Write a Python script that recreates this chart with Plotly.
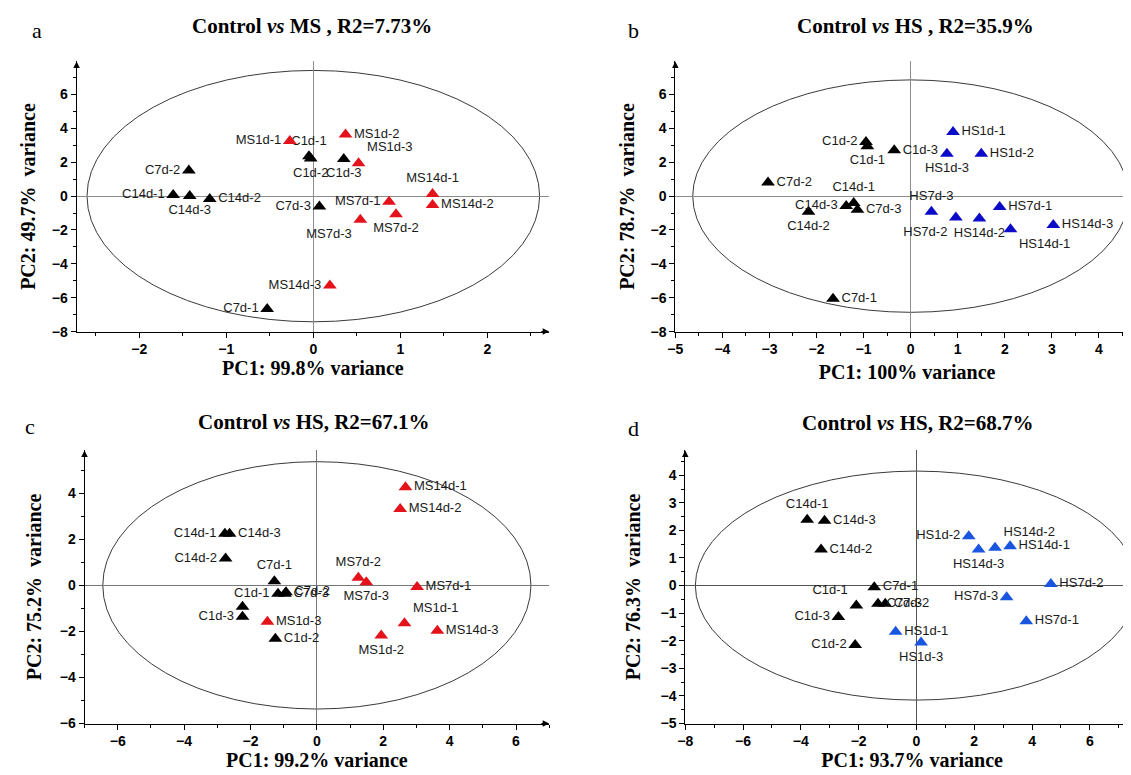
import plotly.graph_objects as go

# ---------------- data ----------------
# Panel a: Control vs MS
A_CTRL_NAMES = ["C1d-1", "C1d-2", "C1d-3", "C7d-1", "C7d-2", "C7d-3", "C14d-1", "C14d-2", "C14d-3"]
A_CTRL_PC1 = [-0.05, -0.03, 0.35, -0.53, -1.43, 0.07, -1.61, -1.19, -1.42]
A_CTRL_PC2 = [2.35, 2.22, 2.19, -6.67, 1.51, -0.62, 0.06, -0.17, 0.00]
A_TRT_NAMES = ["MS1d-1", "MS1d-2", "MS1d-3", "MS7d-1", "MS7d-2", "MS7d-3", "MS14d-1", "MS14d-2", "MS14d-3"]
A_TRT_PC1 = [-0.27, 0.37, 0.52, 0.87, 0.95, 0.54, 1.37, 1.37, 0.19]
A_TRT_PC2 = [3.25, 3.64, 1.94, -0.33, -1.07, -1.40, 0.12, -0.52, -5.27]

# Panel b: Control vs HS
B_CTRL_NAMES = ["C1d-1", "C1d-2", "C1d-3", "C7d-1", "C7d-2", "C7d-3", "C14d-1", "C14d-2", "C14d-3"]
B_CTRL_PC1 = [-0.92, -0.95, -0.35, -1.65, -3.03, -1.13, -1.21, -2.17, -1.37]
B_CTRL_PC2 = [2.95, 3.20, 2.70, -6.06, 0.81, -0.80, -0.41, -0.93, -0.58]
B_TRT_NAMES = ["HS1d-1", "HS1d-2", "HS1d-3", "HS7d-1", "HS7d-2", "HS7d-3", "HS14d-1", "HS14d-2", "HS14d-3"]
B_TRT_PC1 = [0.90, 1.50, 0.77, 1.89, 0.96, 0.44, 2.12, 1.46, 3.03]
B_TRT_PC2 = [3.78, 2.50, 2.50, -0.64, -1.26, -0.93, -1.96, -1.32, -1.70]

# Panel c: Control vs MS (title reads HS)
C_CTRL_NAMES = ["C1d-1", "C1d-2", "C1d-3", "", "C7d-1", "C7d-2", "C7d-3", "C14d-1", "C14d-2", "C14d-3"]
C_CTRL_PC1 = [-1.17, -1.25, -2.24, -2.24, -1.28, -0.93, -0.96, -2.77, -2.75, -2.63]
C_CTRL_PC2 = [-0.36, -2.32, -1.36, -0.93, 0.18, -0.30, -0.36, 2.24, 1.17, 2.24]
C_TRT_NAMES = ["MS1d-1", "MS1d-2", "MS1d-3", "MS7d-1", "MS7d-2", "MS7d-3", "MS14d-1", "MS14d-2", "MS14d-3"]
C_TRT_PC1 = [2.64, 1.94, -1.49, 3.02, 1.25, 1.49, 2.67, 2.51, 3.63]
C_TRT_PC2 = [-1.65, -2.18, -1.58, -0.07, 0.33, 0.14, 4.26, 3.32, -1.97]

# Panel d: Control vs HS
D_CTRL_NAMES = ["C1d-1", "C1d-2", "C1d-3", "C7d-1", "C7d-2", "C7d-3", "C14d-1", "C14d-2", "C14d-3"]
D_CTRL_PC1 = [-2.08, -2.12, -2.70, -1.46, -1.08, -1.33, -3.78, -3.30, -3.18]
D_CTRL_PC2 = [-0.72, -2.15, -1.14, -0.06, -0.66, -0.66, 2.39, 1.31, 2.35]
D_TRT_NAMES = ["HS1d-1", "HS1d-2", "HS1d-3", "HS7d-1", "HS7d-2", "HS7d-3", "HS14d-1", "HS14d-2", "HS14d-3"]
D_TRT_PC1 = [-0.72, 1.81, 0.16, 3.80, 4.65, 3.12, 3.24, 2.72, 2.15]
D_TRT_PC2 = [-1.67, 1.79, -2.06, -1.29, 0.06, -0.42, 1.43, 1.37, 1.31]

# confidence ellipse semi-axes (PC1, PC2) for panels a-d
ELLIPSE_PC1_RADIUS = [2.60, 4.63, 6.45, 7.65]
ELLIPSE_PC2_RADIUS = [7.42, 6.86, 5.37, 4.15]

PANEL_LETTERS = ["a", "b", "c", "d"]
PANEL_TITLES = ["Control <i>vs</i> MS , R2=7.73%", "Control <i>vs</i> HS , R2=35.9%",
                "Control <i>vs</i> HS, R2=67.1%", "Control <i>vs</i> HS, R2=68.7%"]
X_TITLES = ["PC1: 99.8% variance", "PC1: 100% variance", "PC1: 99.2% variance", "PC1: 93.7% variance"]
Y_TITLES = ["PC2: 49.7%\u00a0 variance", "PC2: 78.7%\u00a0 variance",
            "PC2: 75.2%\u00a0 variance", "PC2: 76.3%\u00a0 variance"]

# ---------------- styling / layout ----------------
W, H = 1131, 775
SERIF = "Liberation Serif, Times New Roman, serif"
SANS = "Liberation Sans, Arial, sans-serif"

LABEL_POS = [
    {"C1d-1": "top center", "C1d-2": "bottom center", "C1d-3": "bottom center", "C7d-1": "middle left",
     "C7d-2": "middle left", "C7d-3": "middle left", "C14d-1": "middle left", "C14d-2": "middle right",
     "C14d-3": "bottom center", "MS1d-1": "middle left", "MS1d-2": "middle right", "MS1d-3": "top right",
     "MS7d-1": "middle left", "MS7d-2": "bottom center", "MS7d-3": "bottom left", "MS14d-1": "top center",
     "MS14d-2": "middle right", "MS14d-3": "middle left"},
    {"C1d-1": "bottom center", "C1d-2": "middle left", "C1d-3": "middle right", "C7d-1": "middle right",
     "C7d-2": "middle right", "C7d-3": "middle right", "C14d-1": "top center", "C14d-2": "bottom center",
     "C14d-3": "middle left", "HS1d-1": "middle right", "HS1d-2": "middle right", "HS1d-3": "bottom center",
     "HS7d-1": "middle right", "HS7d-2": "bottom left", "HS7d-3": "top center", "HS14d-1": "bottom right",
     "HS14d-2": "bottom center", "HS14d-3": "middle right"},
    {"C1d-1": "middle left", "C1d-2": "middle right", "C1d-3": "middle left", "": "middle left",
     "C7d-1": "top center", "C7d-2": "middle right", "C7d-3": "middle right", "C14d-1": "middle left",
     "C14d-2": "middle left", "C14d-3": "middle right", "MS1d-1": "top right", "MS1d-2": "bottom center",
     "MS1d-3": "middle right", "MS7d-1": "middle right", "MS7d-2": "top center", "MS7d-3": "bottom center",
     "MS14d-1": "middle right", "MS14d-2": "middle right", "MS14d-3": "middle right"},
    {"C1d-1": "top left", "C1d-2": "middle left", "C1d-3": "middle left", "C7d-1": "middle right",
     "C7d-2": "middle right", "C7d-3": "middle right", "C14d-1": "top center", "C14d-2": "middle right",
     "C14d-3": "middle right", "HS1d-1": "middle right", "HS1d-2": "middle left", "HS1d-3": "bottom center",
     "HS7d-1": "middle right", "HS7d-2": "middle right", "HS7d-3": "middle left", "HS14d-1": "middle right",
     "HS14d-2": "top right", "HS14d-3": "bottom center"},
]

TRT_COLORS = ["#e3121b", "#0c0cc8", "#e3121b", "#1a55e0"]
ZERO_COLORS = ["#8c8c8c", "#8c8c8c", "#777777", "#555555"]

# plot-area pixel boxes (left, right, top, bottom)
BOXES = [(61, 537, 54, 327), (664, 1131, 54, 327), (69, 537, 447, 723), (674, 1131, 447, 723)]
X_RANGES = [(-2.72, 2.71), (-5, 4.85), (-7, 7), (-8, 7.7)]
Y_RANGES = [(-8, 7.95), (-8, 7.95), (-6, 5.86), (-5, 4.9)]
X_DTICK = [(1, 0.5), (1, 0.5), (2, 1), (2, 1)]
Y_DTICK = [(2, 1), (2, 1), (2, 1), (1, 0.5)]
X_TITLE_STANDOFF = [4, 8, 2, 3]
Y_TITLE_STANDOFF = [10, 10, 12, 14]
TITLE_PX = [(298, 18), (906, 18), (300, 418), (908, 419)]
LETTER_PX = [(21, 23), (622, 23), (14, 423), (622, 425)]

DATA = [
    (A_CTRL_NAMES, A_CTRL_PC1, A_CTRL_PC2, A_TRT_NAMES, A_TRT_PC1, A_TRT_PC2),
    (B_CTRL_NAMES, B_CTRL_PC1, B_CTRL_PC2, B_TRT_NAMES, B_TRT_PC1, B_TRT_PC2),
    (C_CTRL_NAMES, C_CTRL_PC1, C_CTRL_PC2, C_TRT_NAMES, C_TRT_PC1, C_TRT_PC2),
    (D_CTRL_NAMES, D_CTRL_PC1, D_CTRL_PC2, D_TRT_NAMES, D_TRT_PC1, D_TRT_PC2),
]

fig = go.Figure()
layout = dict(width=W, height=H, margin=dict(l=0, r=0, t=0, b=0),
              paper_bgcolor="white", plot_bgcolor="white", showlegend=False)
annotations = []
shapes = []

for i in range(4):
    sfx = "" if i == 0 else str(i + 1)
    xref, yref = "x" + sfx, "y" + sfx
    cn, cx, cy, tn, tx, ty = DATA[i]
    pos = LABEL_POS[i]
    for names, xs, ys, col in ((cn, cx, cy, "#000000"), (tn, tx, ty, TRT_COLORS[i])):
        fig.add_trace(go.Scatter(
            x=xs, y=ys, text=names, mode="markers+text",
            textposition=[pos[n] for n in names],
            textfont=dict(family=SANS, size=13, color="#1a1a1a"),
            marker=dict(symbol="triangle-up", size=12, color=col, line=dict(width=0)),
            xaxis=xref, yaxis=yref, cliponaxis=False, hoverinfo="text"))

    l, r, t, b = BOXES[i]
    x0, x1 = X_RANGES[i]
    y0, y1 = Y_RANGES[i]
    axis_common = dict(showgrid=False, showline=True, linecolor="black", linewidth=1,
                       ticks="outside", ticklen=5, tickcolor="black", tickwidth=1,
                       tickfont=dict(family=SANS, size=14, color="black", weight="bold"),
                       zeroline=True, zerolinecolor=ZERO_COLORS[i], zerolinewidth=1.2)
    layout["xaxis" + sfx] = dict(axis_common, domain=[l / W, r / W], range=[x0, x1],
                                 anchor=yref, tick0=0, dtick=X_DTICK[i][0],
                                 minor=dict(dtick=X_DTICK[i][1], tick0=0, ticks="outside", ticklen=3,
                                            tickcolor="black"),
                                 title=dict(text="<b>" + X_TITLES[i] + "</b>", standoff=X_TITLE_STANDOFF[i],
                                            font=dict(family=SERIF, size=20, color="black")))
    layout["yaxis" + sfx] = dict(axis_common, domain=[1 - b / H, 1 - t / H], range=[y0, y1],
                                 anchor=xref, tick0=0, dtick=Y_DTICK[i][0],
                                 minor=dict(dtick=Y_DTICK[i][1], tick0=0, ticks="outside", ticklen=3,
                                            tickcolor="black"),
                                 title=dict(text="<b>" + Y_TITLES[i] + "</b>", standoff=Y_TITLE_STANDOFF[i],
                                            font=dict(family=SERIF, size=20, color="black")))
    # confidence ellipse
    shapes.append(dict(type="circle", xref=xref, yref=yref,
                       x0=-ELLIPSE_PC1_RADIUS[i], x1=ELLIPSE_PC1_RADIUS[i],
                       y0=-ELLIPSE_PC2_RADIUS[i], y1=ELLIPSE_PC2_RADIUS[i],
                       line=dict(color="#3a3a3a", width=1), layer="below"))
    # axis arrow heads
    annotations.append(dict(x=x1, y=y0, ax=x1 - 0.02 * (x1 - x0), ay=y0, xref=xref, yref=yref,
                            axref=xref, ayref=yref, text="", showarrow=True, arrowhead=2,
                            arrowsize=1.3, arrowwidth=1, arrowcolor="black"))
    annotations.append(dict(x=x0, y=y1, ax=x0, ay=y1 - 0.02 * (y1 - y0), xref=xref, yref=yref,
                            axref=xref, ayref=yref, text="", showarrow=True, arrowhead=2,
                            arrowsize=1.3, arrowwidth=1, arrowcolor="black"))
    # panel title and letter
    tx_, ty_ = TITLE_PX[i]
    annotations.append(dict(x=tx_ / W, y=1 - ty_ / H, xref="paper", yref="paper", showarrow=False,
                            xanchor="center", yanchor="middle", text="<b>" + PANEL_TITLES[i] + "</b>",
                            font=dict(family=SERIF, size=21, color="black")))
    lx, ly = LETTER_PX[i]
    annotations.append(dict(x=lx / W, y=1 - ly / H, xref="paper", yref="paper", showarrow=False,
                            xanchor="center", yanchor="middle", text=PANEL_LETTERS[i],
                            font=dict(family=SERIF, size=22, color="black")))

layout["annotations"] = annotations
layout["shapes"] = shapes
fig.update_layout(**layout)
fig.write_html("out.html")
